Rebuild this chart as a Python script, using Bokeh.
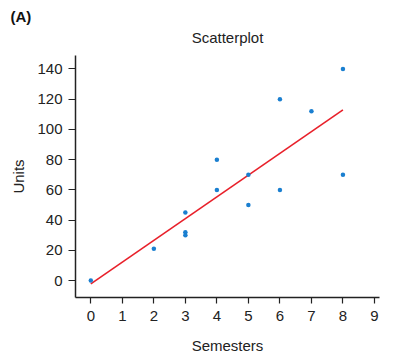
import numpy as np
from bokeh.plotting import figure
from bokeh.models import Range1d, Title, FixedTicker
from bokeh.embed import file_html
from bokeh.resources import INLINE

semesters = [0, 2, 3, 3, 3, 4, 4, 5, 5, 6, 6, 7, 8, 8]
units = [0, 21, 45, 32, 30, 80, 60, 70, 50, 120, 60, 112, 140, 70]
x_ticks = [0, 1, 2, 3, 4, 5, 6, 7, 8, 9]
y_ticks = [0, 20, 40, 60, 80, 100, 120, 140]

FONT = "Liberation Sans"

p = figure(width=399, height=358, output_backend="svg", toolbar_location=None,
           x_range=Range1d(-0.486, 9.16), y_range=Range1d(-11.2, 148.9),
           min_border_left=75, min_border_top=55, min_border_right=20, min_border_bottom=61)
p.outline_line_color = None
p.xgrid.visible = False
p.ygrid.visible = False
p.background_fill_color = "white"
p.border_fill_color = "white"

p.add_layout(Title(text="Scatterplot", align="center", text_font=FONT,
                   text_font_size="15px", text_font_style="normal", text_color="#222222",
                   standoff=20), "above")
p.add_layout(Title(text="(A)", align="left", text_font=FONT, offset=-65,
                   text_font_size="15px", text_font_style="bold", text_color="#111111",
                   standoff=-16), "above")

for ax in (p.xaxis[0], p.yaxis[0]):
    ax.major_label_text_font = FONT
    ax.major_label_text_font_size = "15px"
    ax.major_label_text_color = "#222222"
    ax.axis_label_text_font = FONT
    ax.axis_label_text_font_size = "15px"
    ax.axis_label_text_font_style = "normal"
    ax.axis_label_text_color = "#222222"
    ax.minor_tick_line_color = None
    ax.major_tick_in = 0
    ax.axis_line_color = "#222222"
    ax.major_tick_line_color = "#222222"
    ax.axis_line_width = 1.5
    ax.major_tick_line_width = 1.2

p.xaxis.ticker = FixedTicker(ticks=x_ticks)
p.yaxis.ticker = FixedTicker(ticks=y_ticks)
p.xaxis.axis_label = "Semesters"
p.yaxis.axis_label = "Units"
p.xaxis.major_tick_out = 6
p.yaxis.major_tick_out = 7
p.xaxis.major_label_standoff = 7
p.yaxis.major_label_standoff = 6
p.xaxis.axis_label_standoff = 13
p.yaxis.axis_label_standoff = 7

slope, intercept = np.polyfit(semesters, units, 1)
xs = [min(semesters), max(semesters)]
p.line(xs, [intercept + slope * v for v in xs], line_color="#e8202a", line_width=1.6)
p.scatter(semesters, units, size=4.5, fill_color="#1a7fd0", line_color=None)

open("out.html", "w").write(file_html(p, INLINE))
